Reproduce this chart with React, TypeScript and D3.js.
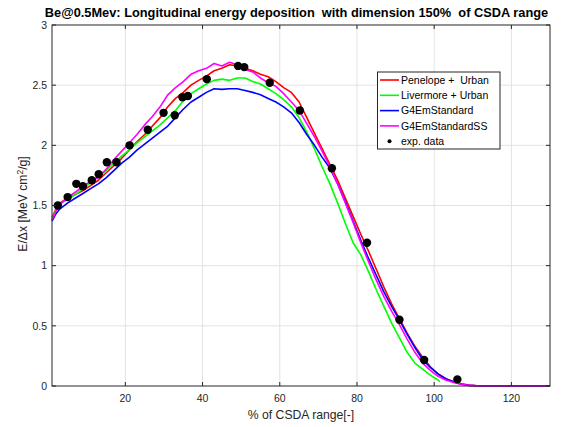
import React from "react";
import * as d3 from "d3";

const W = 573;
const H = 427;
const M = { left: 52, right: 550, top: 25, bottom: 386 };

const titleText = "Be@0.5Mev: Longitudinal energy deposition  with dimension 150%  of CSDA range";
const xLabel = "% of CSDA range[-]";
const xTicks = [20, 40, 60, 80, 100, 120];
const yTicks = [0, 0.5, 1, 1.5, 2, 2.5, 3];
const yTickLabels = ["0", "0.5", "1", "1.5", "2", "2.5", "3"];

const penelope: [number, number][] = [
  [1, 1.40], [2, 1.47], [3, 1.52], [5, 1.56], [7, 1.59], [9, 1.625], [11, 1.665], [13, 1.71],
  [15, 1.77], [17, 1.83], [19, 1.89], [21, 1.96], [23, 2.03], [25, 2.09], [27, 2.16], [29, 2.23],
  [31, 2.32], [33, 2.39], [35, 2.44], [37, 2.50], [39, 2.54], [41, 2.575], [43, 2.62], [45, 2.64],
  [47, 2.67], [49, 2.66], [51, 2.64], [53, 2.62], [55, 2.59], [57, 2.57], [59, 2.53], [61, 2.48],
  [63, 2.44], [65, 2.36], [67, 2.23], [69, 2.10], [71, 1.97], [73, 1.84], [75, 1.71], [77, 1.56],
  [79, 1.41], [81, 1.26], [83, 1.12], [85, 0.97], [87, 0.82], [89, 0.68], [91, 0.56], [93, 0.44],
  [95, 0.33], [97, 0.24], [99, 0.16], [101, 0.10], [103, 0.06], [105, 0.035], [107, 0.018],
  [109, 0.007], [112, 0], [130, 0],
];

const livermore: [number, number][] = [
  [1, 1.39], [2, 1.46], [3, 1.51], [5, 1.55], [7, 1.59], [9, 1.64], [11, 1.69], [13, 1.74],
  [15, 1.79], [17, 1.85], [19, 1.91], [21, 1.96], [23, 2.02], [25, 2.07], [27, 2.12], [29, 2.17],
  [31, 2.23], [33, 2.29], [35, 2.37], [37, 2.43], [39, 2.47], [41, 2.51], [43, 2.54], [45, 2.55],
  [47, 2.54], [49, 2.56], [51, 2.56], [53, 2.53], [55, 2.51], [57, 2.47], [59, 2.43], [61, 2.38],
  [63, 2.32], [65, 2.23], [67, 2.11], [69, 1.97], [71, 1.82], [73, 1.68], [75, 1.52], [77, 1.35],
  [79, 1.19], [81, 1.09], [83, 0.95], [85, 0.80], [87, 0.66], [89, 0.52], [91, 0.40], [93, 0.28],
  [95, 0.19], [97, 0.14], [99, 0.09], [101, 0.05], [101.5, 0.035],
];

const g4Standard: [number, number][] = [
  [1, 1.37], [2, 1.43], [3, 1.47], [5, 1.52], [7, 1.56], [9, 1.60], [11, 1.64], [13, 1.68],
  [15, 1.73], [17, 1.79], [19, 1.85], [21, 1.90], [23, 1.96], [25, 2.01], [27, 2.06], [29, 2.11],
  [31, 2.16], [33, 2.23], [35, 2.30], [37, 2.36], [39, 2.40], [41, 2.44], [43, 2.47], [45, 2.465],
  [47, 2.47], [49, 2.47], [51, 2.455], [53, 2.44], [55, 2.42], [57, 2.39], [59, 2.36], [61, 2.32],
  [63, 2.27], [65, 2.19], [67, 2.09], [69, 2.00], [71, 1.90], [73, 1.81], [75, 1.68], [77, 1.53],
  [79, 1.37], [81, 1.21], [83, 1.06], [85, 0.92], [87, 0.78], [89, 0.66], [91, 0.55], [93, 0.43],
  [95, 0.32], [97, 0.22], [99, 0.155], [101, 0.10], [103, 0.06], [105, 0.035], [107, 0.015],
  [109, 0.005], [112, 0], [130, 0],
];

const g4StandardSS: [number, number][] = [
  [1, 1.38], [2, 1.45], [3, 1.51], [5, 1.565], [7, 1.61], [9, 1.66], [11, 1.70], [13, 1.735],
  [15, 1.80], [17, 1.88], [19, 1.95], [21, 2.02], [23, 2.09], [25, 2.17], [27, 2.24], [29, 2.32],
  [31, 2.42], [33, 2.48], [35, 2.53], [37, 2.59], [39, 2.62], [41, 2.64], [43, 2.68], [45, 2.66],
  [47, 2.69], [49, 2.67], [51, 2.63], [53, 2.61], [55, 2.56], [57, 2.52], [59, 2.49], [61, 2.43],
  [63, 2.36], [65, 2.29], [67, 2.18], [69, 2.07], [71, 1.95], [73, 1.82], [75, 1.68], [77, 1.52],
  [79, 1.36], [81, 1.19], [83, 1.03], [85, 0.88], [87, 0.74], [89, 0.62], [91, 0.51], [93, 0.39],
  [95, 0.28], [97, 0.19], [99, 0.13], [101, 0.08], [103, 0.05], [105, 0.03], [107, 0.015],
  [109, 0.005], [112, 0], [130, 0],
];

const expX = [2.5, 5.05, 7.3, 9.0, 11.3, 13.1, 15.2, 17.7, 21.1, 25.8, 29.9, 32.8, 34.8, 36.2,
  41.1, 49.2, 50.8, 57.4, 65.2, 73.5, 82.6, 91.0, 97.4, 106.0];
const expY = [1.50, 1.57, 1.68, 1.66, 1.71, 1.76, 1.86, 1.86, 2.00, 2.13, 2.27, 2.25, 2.40, 2.41,
  2.55, 2.66, 2.65, 2.52, 2.29, 1.81, 1.19, 0.55, 0.216, 0.055];

const seriesNames = ["Penelope +  Urban", "Livermore + Urban", "G4EmStandard", "G4EmStandardSS"];
const seriesColors = ["#ff0000", "#00ff00", "#0000ff", "#ff00ff"];
const seriesData = [penelope, livermore, g4Standard, g4StandardSS];

const FONT = "'Liberation Sans', Arial, Helvetica, sans-serif";
const AX = "#262626";
const PRE = { whiteSpace: "pre" as const };

export default function App() {
  const x = d3.scaleLinear().domain([1, 130]).range([M.left, M.right]);
  const y = d3.scaleLinear().domain([0, 3]).range([M.bottom, M.top]);
  const line = d3.line<[number, number]>().x((d) => x(d[0])).y((d) => y(d[1]));
  const tl = 4;

  return (
    <svg width={W} height={H} style={{ position: "absolute", left: 0, top: 0, background: "#fff" }}
      fontFamily={FONT}>
      <rect x={0} y={0} width={W} height={H} fill="#fff" />
      {xTicks.map((t) => (
        <line key={"gx" + t} x1={x(t)} x2={x(t)} y1={M.top} y2={M.bottom} stroke="#e3e3e3" strokeWidth={1} />
      ))}
      {yTicks.slice(1, -1).map((t) => (
        <line key={"gy" + t} x1={M.left} x2={M.right} y1={y(t)} y2={y(t)} stroke="#e3e3e3" strokeWidth={1} />
      ))}
      {seriesData.map((d, i) => (
        <path key={"s" + i} d={line(d) || ""} fill="none" stroke={seriesColors[i]} strokeWidth={1.6}
          strokeLinejoin="round" />
      ))}
      {expX.map((xv, i) => (
        <circle key={"e" + i} cx={x(xv)} cy={y(expY[i])} r={4.2} fill="#000" />
      ))}
      <rect x={M.left} y={M.top} width={M.right - M.left} height={M.bottom - M.top} fill="none"
        stroke={AX} strokeWidth={1} />
      {xTicks.map((t) => (
        <g key={"tx" + t}>
          <line x1={x(t)} x2={x(t)} y1={M.bottom} y2={M.bottom - tl} stroke={AX} />
          <line x1={x(t)} x2={x(t)} y1={M.top} y2={M.top + tl} stroke={AX} />
          <text x={x(t)} y={M.bottom + 16} textAnchor="middle" fontSize={10.5} fill={AX}>{t}</text>
        </g>
      ))}
      {yTicks.map((t, i) => (
        <g key={"ty" + t}>
          <line x1={M.left} x2={M.left + tl} y1={y(t)} y2={y(t)} stroke={AX} />
          <line x1={M.right} x2={M.right - tl} y1={y(t)} y2={y(t)} stroke={AX} />
          <text x={M.left - 5} y={y(t) + 3.8} textAnchor="end" fontSize={10.5} fill={AX}>{yTickLabels[i]}</text>
        </g>
      ))}
      <text x={296.5} y={17} textAnchor="middle" fontSize={12.8} fontWeight="bold" fill="#000" style={PRE}>{titleText}</text>
      <text x={301} y={419} textAnchor="middle" fontSize={12.2} fill={AX} style={PRE}>{xLabel}</text>
      <text transform={`translate(27,204) rotate(-90)`} textAnchor="middle"
        fontSize={12.2} fill={AX}>
        E/Δx [MeV cm<tspan dy={-4.5} fontSize={8.5}>2</tspan><tspan dy={4.5}>/g]</tspan>
      </text>
      <g>
        <rect x={377.5} y={72} width={122.5} height={77} fill="#fff" stroke={AX} strokeWidth={1} />
        {seriesNames.map((n, i) => (
          <g key={"l" + i}>
            <line x1={380} x2={399} y1={80 + i * 15.3} y2={80 + i * 15.3} stroke={seriesColors[i]} strokeWidth={1.6} />
            <text x={401} y={80 + i * 15.3 + 3.8} fontSize={10.5} fill="#000" style={PRE}>{n}</text>
          </g>
        ))}
        <circle cx={389.5} cy={141.2} r={2} fill="#000" />
        <text x={401} y={141.2 + 3.8} fontSize={10.5} fill="#000" style={PRE}>exp. data</text>
      </g>
    </svg>
  );
}
